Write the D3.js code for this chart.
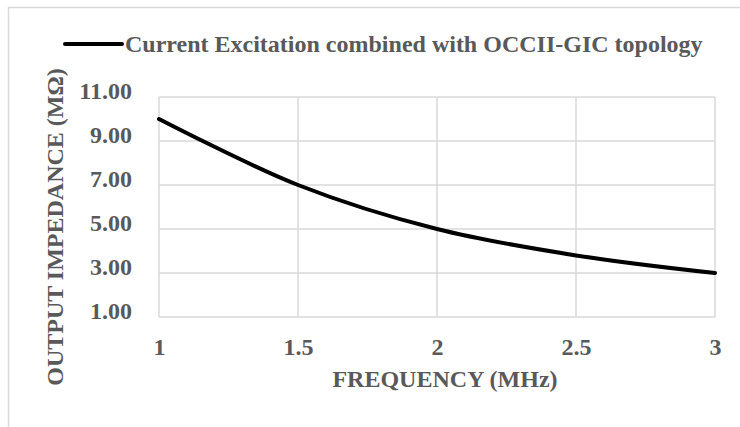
<!DOCTYPE html>
<html>
<head>
<meta charset="utf-8">
<script src="https://cdn.jsdelivr.net/npm/d3@7/dist/d3.min.js"></script>
<style>
  html, body { margin: 0; padding: 0; background: #fff; }
  svg { display: block; }
  text { font-family: "Liberation Serif", "Times New Roman", serif; font-weight: bold; fill: #595959; }
</style>
</head>
<body>
<svg id="chart" width="740" height="427"></svg>
<script>
const frequency = [1, 1.5, 2, 2.5, 3];
const impedance = [10, 7, 5, 3.8, 3];
const xTicks = [1, 1.5, 2, 2.5, 3];
const yTicks = [1, 3, 5, 7, 9, 11];
const seriesName = "Current Excitation combined with OCCII-GIC topology";
const xTitle = "FREQUENCY (MHz)";
const yTitle = "OUTPUT IMPEDANCE (MΩ)";

const svg = d3.select("#chart");
const W = 740, H = 427;
const plot = { left: 159, right: 715, top: 97, bottom: 317 };

// outer chart border
svg.append("rect")
  .attr("x", 8.5).attr("y", 7.5)
  .attr("width", W + 10).attr("height", H + 10)
  .attr("fill", "none").attr("stroke", "#d9d9d9").attr("stroke-width", 1.5);

const x = d3.scaleLinear().domain([1, 3]).range([plot.left, plot.right]);
const y = d3.scaleLinear().domain([1, 11]).range([plot.bottom, plot.top]);

// gridlines
const grid = svg.append("g").attr("stroke", "#d9d9d9").attr("stroke-width", 1.5);
grid.selectAll("line.h").data(yTicks).enter().append("line")
  .attr("x1", plot.left).attr("x2", plot.right)
  .attr("y1", d => y(d)).attr("y2", d => y(d));
grid.selectAll("line.v").data(xTicks).enter().append("line")
  .attr("y1", plot.top).attr("y2", plot.bottom)
  .attr("x1", d => x(d)).attr("x2", d => x(d));

// axes via d3 axis generators (labels only)
const xAxis = d3.axisBottom(x).tickValues(xTicks).tickSize(0).tickPadding(0)
  .tickFormat(d => String(d));
const gx = svg.append("g").attr("transform", `translate(0,${plot.bottom})`).call(xAxis);
gx.select(".domain").remove();
gx.selectAll("text")
  .attr("dy", null).attr("y", 38)
  .style("font-size", "24px").style("font-family", "Liberation Serif").style("font-weight", "bold")
  .attr("fill", "#595959");

const yAxis = d3.axisLeft(y).tickValues(yTicks).tickSize(0).tickPadding(0)
  .tickFormat(d3.format(".2f"));
const gy = svg.append("g").attr("transform", `translate(132,0)`).call(yAxis);
gy.select(".domain").remove();
gy.selectAll("text")
  .attr("dy", null).attr("x", 0).attr("y", 1)
  .style("font-size", "24px").style("font-family", "Liberation Serif").style("font-weight", "bold")
  .attr("fill", "#595959");

// data line
const pts = frequency.map((f, i) => [f, impedance[i]]);
const line = d3.line().x(d => x(d[0])).y(d => y(d[1])).curve(d3.curveCatmullRom.alpha(0.5));
svg.append("path").datum(pts)
  .attr("d", line)
  .attr("fill", "none").attr("stroke", "#000").attr("stroke-width", 4)
  .attr("stroke-linecap", "round");

// legend
svg.append("line").attr("x1", 65).attr("x2", 122).attr("y1", 44).attr("y2", 44)
  .attr("stroke", "#000").attr("stroke-width", 4).attr("stroke-linecap", "round");
svg.append("text").attr("x", 125).attr("y", 52)
  .style("font-size", "24px").text(seriesName);

// axis titles
svg.append("text").attr("x", 445).attr("y", 387).attr("text-anchor", "middle")
  .style("font-size", "24px").text(xTitle);
svg.append("text").attr("transform", "translate(63,227) rotate(-90)").attr("text-anchor", "middle")
  .style("font-size", "24px").text(yTitle);
</script>
</body>
</html>
